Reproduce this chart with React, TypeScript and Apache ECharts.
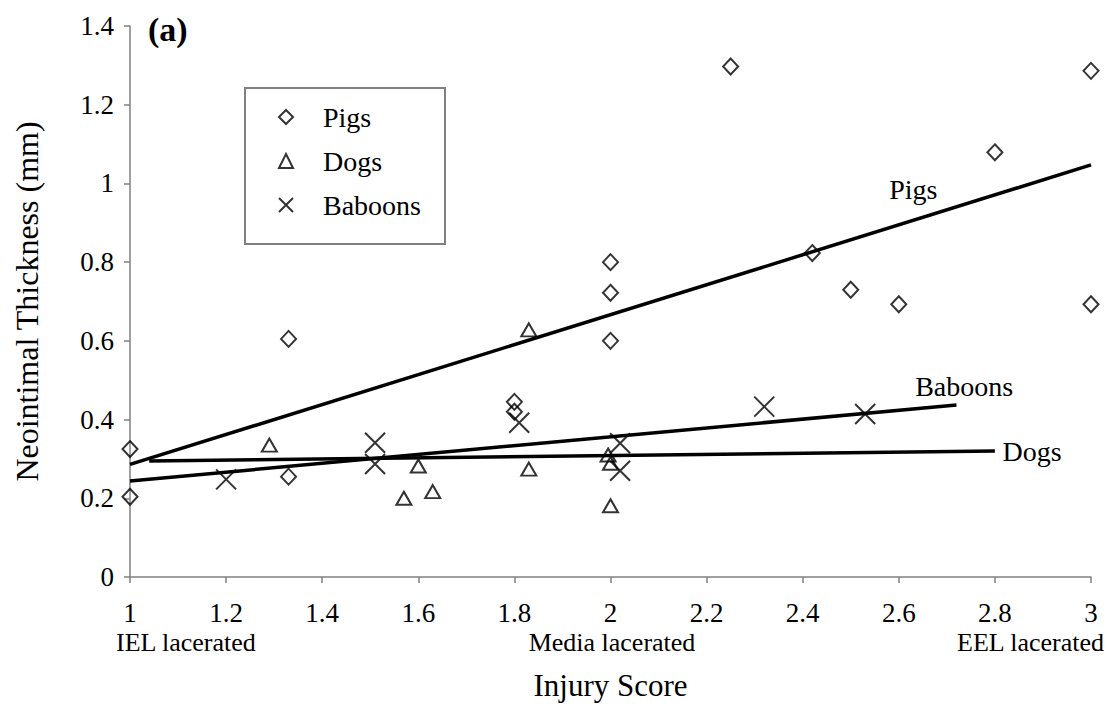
import React, { useEffect, useRef } from "react";
import * as echarts from "echarts";

// Scatter data [injury score, neointimal thickness (mm)]
const pigs: number[][] = [
  [1, 0.325], [1, 0.204], [1.33, 0.605], [1.33, 0.255], [1.8, 0.445], [1.8, 0.42],
  [2, 0.6], [2, 0.8], [2, 0.722], [2.25, 1.297], [2.42, 0.823], [2.5, 0.73],
  [2.6, 0.693], [2.8, 1.079], [3, 1.286], [3, 0.693],
];
const dogs: number[][] = [
  [1.29, 0.335], [1.57, 0.2], [1.6, 0.282], [1.63, 0.217], [1.83, 0.628],
  [1.83, 0.274], [1.995, 0.31], [2, 0.289], [2, 0.181],
];
const baboons: number[][] = [
  [1.2, 0.248], [1.51, 0.341], [1.51, 0.287], [1.81, 0.392], [2.02, 0.34],
  [2.02, 0.27], [2.32, 0.433], [2.53, 0.414],
];

// Regression lines (endpoints)
const pigsTrend: number[][] = [[1, 0.286], [3, 1.047]];
const dogsTrend: number[][] = [[1.04, 0.295], [2.8, 0.32]];
const baboonsTrend: number[][] = [[1, 0.244], [2.72, 0.437]];

// Line label anchors (left edge of text)
const pigsLabelAt: number[] = [2.58, 0.984];
const baboonsLabelAt: number[] = [2.634, 0.483];
const dogsLabelAt: number[] = [2.816, 0.318];

const seriesNames = ["Pigs", "Dogs", "Baboons"];
const categoryLabels = ["IEL lacerated", "Media lacerated", "EEL lacerated"];

const FONT = "'Liberation Serif', 'Times New Roman', serif";

export default function App() {
  const ref = useRef<HTMLDivElement>(null);

  useEffect(() => {
    if (!ref.current) return;
    const chart = echarts.init(ref.current, null, { renderer: "svg" });

    const markerStyle = {
      color: "transparent",
      borderColor: "#000",
      borderWidth: 2,
    };

    const trendSeries = (name: string, data: number[][], labelAt: number[], label: string) => ({
      name: name + " trend",
      type: "line",
      data,
      showSymbol: false,
      symbol: "none",
      lineStyle: { color: "#000", width: 3.5 },
      silent: true,
      z: 3,
      markPoint: {
        symbol: "circle",
        symbolSize: 0,
        silent: true,
        data: [{ coord: labelAt, value: label }],
        label: {
          show: true,
          position: "right",
          distance: 0,
          formatter: label,
          color: "#000",
          fontFamily: FONT,
          fontSize: 28,
        },
      },
    });

    chart.setOption({
      animation: false,
      backgroundColor: "#fff",
      textStyle: { fontFamily: FONT, color: "#000" },
      grid: { left: 130, right: 16, top: 26, bottom: 129, containLabel: false },
      legend: {
        data: seriesNames,
        orient: "vertical",
        left: 278,
        top: 103,
        padding: 0,
        itemGap: 16,
        itemWidth: 14,
        itemHeight: 14,
        selectedMode: false,
        textStyle: {
          fontFamily: FONT,
          fontSize: 28,
          lineHeight: 28,
          color: "#000",
          padding: [0, 0, 0, 25],
        },
      },
      xAxis: {
        type: "value",
        min: 1,
        max: 3,
        interval: 0.2,
        name: "Injury Score",
        nameLocation: "middle",
        nameGap: 93,
        nameTextStyle: { fontFamily: FONT, fontSize: 31, color: "#000" },
        axisLine: { show: true, lineStyle: { color: "#808080", width: 1.5 } },
        axisTick: { show: true, inside: false, length: 6, lineStyle: { color: "#808080", width: 1.5 } },
        axisLabel: { fontFamily: FONT, fontSize: 27, color: "#000", margin: 22 },
        splitLine: { show: false },
      },
      yAxis: {
        type: "value",
        min: 0,
        max: 1.4,
        interval: 0.2,
        name: "Neointimal Thickness (mm)",
        nameLocation: "middle",
        nameGap: 87,
        nameTextStyle: { fontFamily: FONT, fontSize: 32, color: "#000" },
        axisLine: { show: true, lineStyle: { color: "#808080", width: 1.5 } },
        axisTick: { show: true, inside: false, length: 6, lineStyle: { color: "#808080", width: 1.5 } },
        axisLabel: { fontFamily: FONT, fontSize: 27, color: "#000", margin: 16 },
        splitLine: { show: false },
      },
      graphic: [
        {
          type: "rect",
          shape: { x: 245, y: 88, width: 200, height: 156 },
          style: { fill: "none", stroke: "#808080", lineWidth: 2 },
          z: 10,
        },
        {
          type: "text",
          x: 148,
          y: 12,
          style: { text: "(a)", fontFamily: FONT, fontSize: 34, fontWeight: "bold", fill: "#000" },
        },
        {
          type: "text",
          x: 116,
          y: 642,
          style: { text: categoryLabels[0], fontFamily: FONT, fontSize: 26, fill: "#000", align: "left", verticalAlign: "middle" },
        },
        {
          type: "text",
          x: 612,
          y: 642,
          style: { text: categoryLabels[1], fontFamily: FONT, fontSize: 26, fill: "#000", align: "center", verticalAlign: "middle" },
        },
        {
          type: "text",
          x: 1104,
          y: 642,
          style: { text: categoryLabels[2], fontFamily: FONT, fontSize: 26, fill: "#000", align: "right", verticalAlign: "middle" },
        },
      ],
      series: [
        {
          name: "Pigs",
          type: "scatter",
          data: pigs,
          symbol: "diamond",
          symbolSize: [15, 16],
          itemStyle: markerStyle,
          z: 4,
        },
        {
          name: "Dogs",
          type: "scatter",
          data: dogs,
          symbol: "triangle",
          symbolSize: [15, 13],
          itemStyle: markerStyle,
          z: 4,
        },
        {
          name: "Baboons",
          type: "scatter",
          data: baboons,
          symbol: "path://M0,0L10,10M10,0L0,10",
          symbolSize: [20, 20],
          itemStyle: { ...markerStyle, borderWidth: 2 },
          z: 4,
        },
        trendSeries("Pigs", pigsTrend, pigsLabelAt, "Pigs"),
        trendSeries("Dogs", dogsTrend, dogsLabelAt, "Dogs"),
        trendSeries("Baboons", baboonsTrend, baboonsLabelAt, "Baboons"),
      ],
    });

    return () => chart.dispose();
  }, []);

  return (
    <div
      ref={ref}
      style={{ position: "fixed", left: 0, top: 0, width: 1107, height: 706 }}
    />
  );
}
